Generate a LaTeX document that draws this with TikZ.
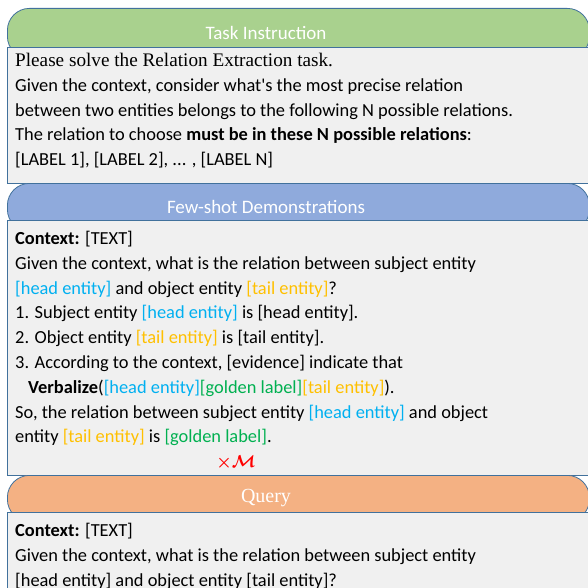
\documentclass[tikz,border=0pt]{standalone}
\usepackage{amsmath}
\usepackage{amssymb}
\usepackage{fontspec}
\setmainfont{Carlito}
\newfontfamily\serifface{Liberation Serif}
\usepackage{xcolor}
\usetikzlibrary{positioning}

\definecolor{taskgreen}{HTML}{A9D18E}
\definecolor{demoblue}{HTML}{8FAADC}
\definecolor{queryorange}{HTML}{F4B183}
\definecolor{bodygray}{HTML}{F0F0F0}
\definecolor{edgeblue}{HTML}{41719C}
\definecolor{headcol}{HTML}{00B0F0}
\definecolor{tailcol}{HTML}{FFC000}
\definecolor{goldcol}{HTML}{00B050}
\newcommand{\hent}[1]{\textcolor{headcol}{#1}}
\newcommand{\tent}[1]{\textcolor{tailcol}{#1}}
\newcommand{\glab}[1]{\textcolor{goldcol}{#1}}

\begin{document}
\begin{tikzpicture}[
    x=1pt, y=-1pt,
    header/.style={rectangle, rounded corners=22pt, draw=edgeblue, line width=0.8pt, anchor=north west, minimum width=582pt, inner sep=0pt},
    panel/.style={rectangle, draw=edgeblue, line width=0.8pt, fill=bodygray, anchor=north west, minimum width=582pt, inner sep=0pt},
    title/.style={text=white, font=\fontsize{19}{22}\selectfont},
    prompt/.style={anchor=north west, align=left, inner sep=0pt, font=\fontsize{18.4}{24.8}\selectfont}
]
\useasboundingbox (0,0) rectangle (587,588);

% Boxes
\node[header, fill=taskgreen, minimum height=50pt] (taskhead) at (7,8) {};
\node[panel, minimum height=136pt] (taskbody) at (7,47) {};
\node[header, fill=demoblue, minimum height=48pt] (demohead) at (7,183) {};
\node[panel, minimum height=255pt] (demobody) at (7,220) {};
\node[header, fill=queryorange, minimum height=46pt] (queryhead) at (7,475) {};
\node[panel, minimum height=90pt] (querybody) at (7,512) {};

% Titles
\node[title] (tasktitle) at (266,33) {Task Instruction};
\node[title] (demotitle) at (266,207) {Few-shot Demonstrations};
\node[title, font=\serifface\fontsize{20}{22}\selectfont] (querytitle) at (266,498) {Query};

% Prompt texts
\node[prompt] (tasktext) at (15,53) {{\serifface\fontsize{19.2}{24.8}\selectfont Please solve the Relation Extraction task.}\\
Given the context, consider what\textquotesingle s the most precise relation\\
between two entities belongs to the following N possible relations.\\
The relation to choose \textbf{must be in these N possible relations}:\\
{}[LABEL 1], [LABEL 2], ... , [LABEL N]};

\node[prompt] (demotext) at (15,231) {\textbf{Context:} [TEXT]\\
Given the context, what is the relation between subject entity\\
\hent{[head entity]} and object entity \tent{[tail entity]}?\\
1. Subject entity \hent{[head entity]} is [head entity].\\
2. Object entity \tent{[tail entity]} is [tail entity].\\
3. According to the context, [evidence] indicate that\\
\hspace*{13pt}\textbf{Verbalize}(\hent{[head entity]}\glab{[golden label]}\tent{[tail entity]}).\\
So, the relation between subject entity \hent{[head entity]} and object\\
entity \tent{[tail entity]} is \glab{[golden label]}.};

\node[text=red, font=\fontsize{18}{22}\selectfont] (demomark) at (236,463) {$\boldsymbol{\times}\boldsymbol{\mathcal{M}}$};

\node[prompt] (querytext) at (15,523) {\textbf{Context:} [TEXT]\\
Given the context, what is the relation between subject entity\\
{}[head entity] and object entity [tail entity]?};

\end{tikzpicture}
\end{document}
